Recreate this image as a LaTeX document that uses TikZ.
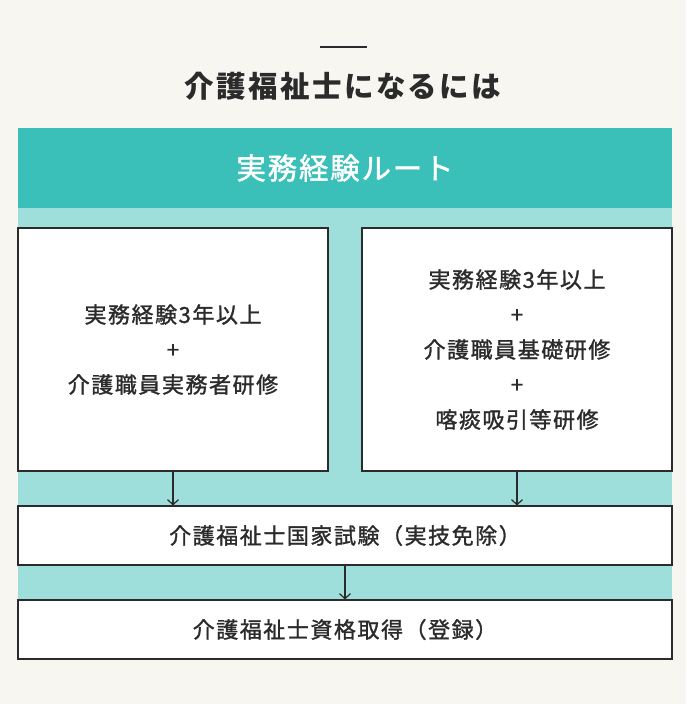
\documentclass[tikz,border=0pt]{standalone}
\usepackage{fontspec}
\usepackage{tikz}
\usetikzlibrary{arrows.meta}
\usetikzlibrary{positioning}
\newfontfamily\jpfont[LetterSpace=7,FakeBold=1.3]{Noto Sans CJK JP}
\newfontfamily\jptitle[LetterSpace=8]{Noto Sans CJK JP}
\newfontfamily\jphead[LetterSpace=6,FakeBold=1.5]{Noto Sans CJK JP}
\definecolor{bgcream}{HTML}{F8F6F0}
\definecolor{routeteal}{HTML}{3BBFB9}
\definecolor{paleteal}{HTML}{9EDFDC}
\definecolor{inkdark}{HTML}{2B2B2B}
\tikzstyle{head}=[rectangle,fill=routeteal,text=white,minimum width=654,minimum height=80,inner sep=0,font=\jphead\fontsize{29.5}{34}\selectfont]
\tikzstyle{req}=[draw=inkdark,line width=1.1,fill=white,rectangle,align=center,text=inkdark,minimum width=310,minimum height=243,inner sep=0,font=\jpfont\fontsize{22}{35}\selectfont]
\tikzstyle{stage}=[draw=inkdark,line width=1.1,fill=white,rectangle,align=center,text=inkdark,minimum width=654,minimum height=59,inner sep=0,font=\jpfont\fontsize{22}{26}\selectfont]
\tikzstyle{flow}=[draw=inkdark,line width=1.2,-{Straight Barb[length=5,width=11]}]

\begin{document}
\begin{tikzpicture}[x=1pt,y=-1pt]
	\fill[bgcream] (0,0) rectangle (686,704);
	
	% title
	\draw[inkdark,line width=1.3] (320,47) -- (367,47);
	\node[text=inkdark,font=\jptitle\bfseries\fontsize{29.5}{34}\selectfont] (TITLE) at (343,86) {介護福祉士になるには};
	
	\fill[paleteal] (18,208) rectangle (672,600);
	\node[head] (ROUTE) at (345,168) {実務経験ルート};
	
	\node[req] (reqA) at (173,349.5) {実務経験3年以上\\+\\介護職員実務者研修};
	\node[req] (reqB) at (517,349.5) {実務経験3年以上\\+\\介護職員基礎研修\\+\\喀痰吸引等研修};
	
	\node[stage] (exam) at (345,535.5) {介護福祉士国家試験（実技免除）};
	\node[stage] (regist) at (345,629.5) {介護福祉士資格取得（登録）};
	
	\path[flow] (reqA.south) -- (reqA.south |- exam.north);
	\path[flow] (reqB.south) -- (reqB.south |- exam.north);
	\path[flow] (exam.south) -- (regist.north);
\end{tikzpicture}
\end{document}
